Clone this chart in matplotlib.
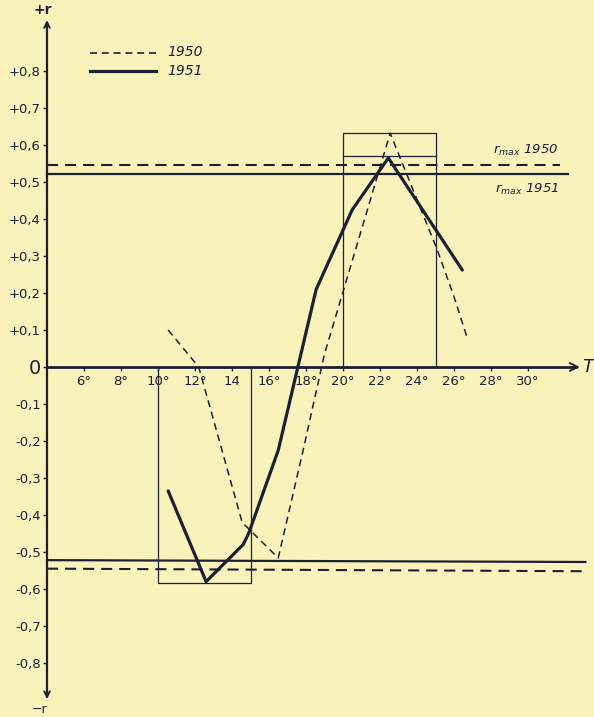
import numpy as np
import matplotlib.pyplot as plt

plt.rcParams['lines.scale_dashes'] = False
plt.rcParams['mathtext.fontset'] = 'dejavusans'
plt.rcParams['font.family'] = ['DejaVu Sans']

ink = '#1d2033'
paper = '#f9f2ba'

# r(T) curves
T_1950 = [10.55, 12.2, 14.55, 16.5, 17.85, 19.0, 22.55, 25.1, 26.0, 26.75]
r_1950 = [0.10, 0.0, -0.42, -0.516, -0.224, 0.035, 0.632, 0.316, 0.19, 0.073]
T_1951 = [10.55, 12.6, 14.6, 14.9, 16.5, 18.55, 20.5, 22.45, 26.45]
r_1951 = [-0.335, -0.58, -0.48, -0.45, -0.225, 0.21, 0.425, 0.565, 0.262]

# r_max levels (positive and negative side)
rmax_1950 = 0.546
rmax_1951 = 0.522
rmin_1950 = [-0.545, -0.552]
rmin_1951 = [-0.522, -0.527]

# boxes around the extremes
box_neg_T = [10, 15]
box_neg_r = -0.584
box_pos_T = [20, 25]
box_pos_r = 0.632
box_pos_inner = 0.570

T_ticks = [6, 8, 10, 12, 14, 16, 18, 20, 22, 24, 26, 28, 30]
T_labels = ['6°', '8°', '10°', '12°', '14', '16°', '18°', '20°', '22°', '24°', '26°', '28°', '30°']
r_ticks = [0.8, 0.7, 0.6, 0.5, 0.4, 0.3, 0.2, 0.1, 0.0, -0.1, -0.2, -0.3, -0.4, -0.5, -0.6, -0.7, -0.8]
r_labels = ['+0,8', '+0,7', '+0,6', '+0,5', '+0,4', '+0,3', '+0,2', '+0,1', '0',
            '-0,1', '-0,2', '-0,3', '-0,4', '-0,5', '-0,6', '-0,7', '-0,8']

fig = plt.figure(figsize=(5.94, 7.17), dpi=100, facecolor=paper)
ax = fig.add_axes([0, 0, 1, 1])
ax.set_facecolor(paper)
ax.set_xlim(4 - 47/18.5, 4 + 547/18.5)
ax.set_ylim(-350/370, 367/370)

for s in ['top', 'right']:
    ax.spines[s].set_visible(False)
ax.spines['left'].set_position(('data', 4))
ax.spines['bottom'].set_position(('data', 0))
ax.spines['left'].set_bounds(-0.89, 0.93)
ax.spines['bottom'].set_bounds(4, 32.6)
ax.spines['left'].set_linewidth(1.6)
ax.spines['bottom'].set_linewidth(2.0)
ax.spines['left'].set_color(ink)
ax.spines['bottom'].set_color(ink)

ax.set_xticks(T_ticks, T_labels)
ax.set_yticks(r_ticks, r_labels)
ax.tick_params(axis='x', direction='out', length=3, width=1, color=ink,
               labelcolor=ink, labelsize=9.5, pad=3)
ax.tick_params(axis='y', direction='out', length=3, width=1, color=ink,
               labelcolor=ink, labelsize=9.5, pad=1.5)
for lab in ax.get_yticklabels():
    if lab.get_text() == '0':
        lab.set_fontsize(14)

# axis arrows
ax.annotate('', xy=(4, 0.945), xytext=(4, 0.90),
            arrowprops=dict(arrowstyle='->', color=ink, lw=1.4, mutation_scale=10))
ax.annotate('', xy=(4, -0.905), xytext=(4, -0.86),
            arrowprops=dict(arrowstyle='->', color=ink, lw=1.4, mutation_scale=10))
ax.annotate('', xy=(32.95, 0.0), xytext=(32.3, 0.0),
            arrowprops=dict(arrowstyle='->', color=ink, lw=1.4, mutation_scale=14))
ax.text(3.75, 0.965, '+r', fontsize=10, fontweight='bold', color=ink, ha='center', va='center')
ax.text(3.6, -0.925, '−r', fontsize=9, color=ink, ha='center', va='center')
ax.text(33.25, 0.0, 'T', fontsize=13, style='italic', color=ink, ha='center', va='center')

# boxes
ax.plot([box_neg_T[0], box_neg_T[0], box_neg_T[1], box_neg_T[1]],
        [0, box_neg_r, box_neg_r, 0], color=ink, lw=0.9)
ax.plot([box_pos_T[0], box_pos_T[0], box_pos_T[1], box_pos_T[1]],
        [0, box_pos_r, box_pos_r, 0], color=ink, lw=0.9)
ax.plot(box_pos_T, [box_pos_inner, box_pos_inner], color=ink, lw=0.9)

# r_max levels
ax.plot([4, 31.75], [rmax_1950, rmax_1950], color=ink, lw=1.5, dashes=(8, 5))
ax.plot([4, 32.15], [rmax_1951, rmax_1951], color=ink, lw=1.6)
ax.plot([4, 33.1], rmin_1950, color=ink, lw=1.5, dashes=(8, 5))
ax.plot([4, 33.1], rmin_1951, color=ink, lw=1.6)
ax.text(31.65, 0.565, r'$r_{max}$ 1950', fontsize=9.5, style='italic', color=ink,
        ha='right', va='bottom')
ax.text(31.65, 0.500, r'$r_{max}$ 1951', fontsize=9.5, style='italic', color=ink,
        ha='right', va='top')

# curves
ax.plot(T_1950, r_1950, color=ink, lw=1.1, dashes=(5, 3.5))
ax.plot(T_1951, r_1951, color=ink, lw=2.3, solid_capstyle='round', solid_joinstyle='round')

# legend
ax.plot([6.35, 9.9], [0.85, 0.85], color=ink, lw=1.2, dashes=(5, 3.5))
ax.plot([6.35, 9.9], [0.801, 0.801], color=ink, lw=2.3)
ax.text(10.5, 0.85, '1950', fontsize=10, style='italic', color=ink, va='center')
ax.text(10.5, 0.801, '1951', fontsize=10, style='italic', color=ink, va='center')

fig.savefig('out.png', dpi=100, facecolor=paper)
